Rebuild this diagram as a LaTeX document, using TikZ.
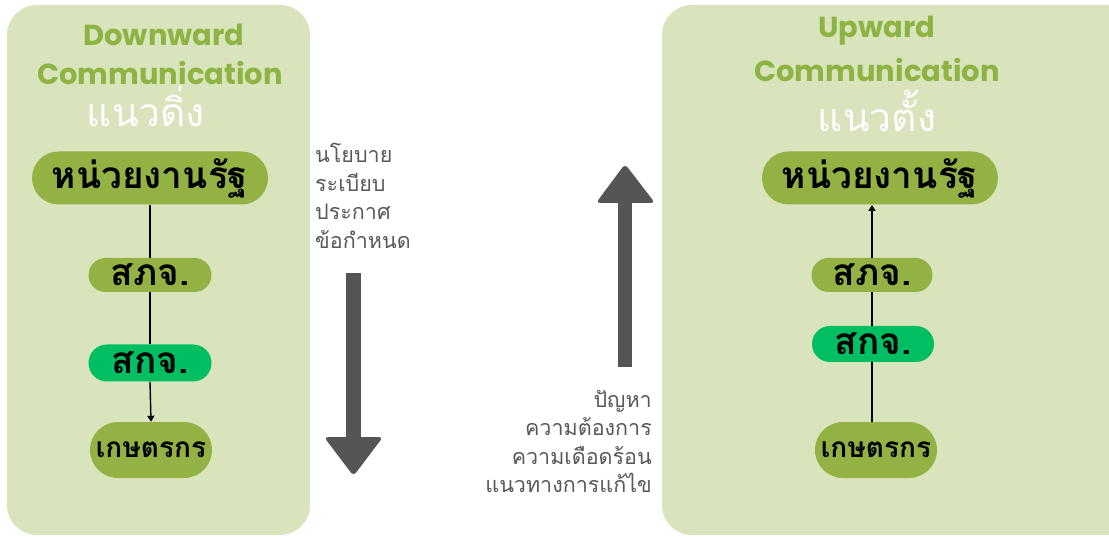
\documentclass[tikz,border=0pt]{standalone}
\usepackage{fontspec}
\setmainfont{Liberation Sans}
\newfontfamily\thai[Script=Thai]{Loma}
\newfontfamily\titlefont{Poppins}[UprightFont=*-Bold]
\usetikzlibrary{arrows.meta,shapes.misc}
\definecolor{panel}{RGB}{217,227,188}
\definecolor{olive}{RGB}{148,178,67}
\definecolor{titlegreen}{RGB}{141,180,67}
\definecolor{brightgreen}{RGB}{0,191,99}
\definecolor{graytext}{RGB}{89,89,89}
\definecolor{bigarrow}{RGB}{85,85,85}
\tikzset{
  x=1pt,y=-1pt,
  panelbox/.style={fill=panel,draw=none,rounded corners=30pt},
  pill/.style={rounded rectangle, fill=olive, text=black, font=\thai\bfseries\fontsize{37}{38}\selectfont, inner sep=0pt},
  farmpill/.style={pill, font=\thai\bfseries\fontsize{28}{30}\selectfont},
  ttl/.style={text=titlegreen,font=\titlefont\fontsize{29}{31}\selectfont},
  thaititle/.style={text=white,font=\thai\fontsize{39}{40}\selectfont},
  midtext/.style={text=graytext,font=\thai\fontsize{21.5}{28.5}\selectfont},
  conn/.style={line width=1.4pt,draw=black},
  tip/.style={-{Triangle[width=7pt,length=6pt]}},
}
\begin{document}
\begin{tikzpicture}
\useasboundingbox (0,0) rectangle (1109,537);
\fill[white] (0,0) rectangle (1109,537);
% panels
\fill[panelbox] (7,5) rectangle (310,535);
\fill[panelbox] (662,5) rectangle (1140,535);
% left titles
\node[ttl] (dtitle1) at (164,35) {Downward};
\node[ttl] (dtitle2) at (160,73) {Communication};
\node[thaititle] (dthai) at (146,107) {แนวดิ่ง};
% right titles
\node[ttl] (utitle1) at (877,31) {Upward};
\node[ttl] (utitle2) at (877,70) {Communication};
\node[thaititle] (uthai) at (877,111) {แนวตั้ง};
% left nodes
\node[pill, minimum width=236pt, minimum height=53pt] (lgov) at (150,178) {หน่วยงานรัฐ};
\node[pill, minimum width=123pt, minimum height=34pt] (lspj) at (150,275) {สภจ.};
\node[pill, fill=brightgreen, minimum width=123pt, minimum height=37pt] (lskj) at (150,363) {สกจ.};
\node[farmpill, minimum width=122pt, minimum height=56pt] (lfarm) at (151,450) {เกษตรกร};
\draw[conn] (lgov.south) -- (lspj.north);
\draw[conn] (lspj.south) -- (lskj.north);
\draw[conn,tip] (lskj.south) -- (lfarm.north);
% right nodes
\node[pill, minimum width=236pt, minimum height=53pt] (rgov) at (880,178) {หน่วยงานรัฐ};
\node[pill, minimum width=121pt, minimum height=34pt] (rspj) at (872,275) {สภจ.};
\node[pill, fill=brightgreen, minimum width=122pt, minimum height=36pt] (rskj) at (873,344) {สกจ.};
\node[farmpill, minimum width=122pt, minimum height=56pt] (rfarm) at (876,450) {เกษตรกร};
\coordinate (rtop) at (872,205);
\draw[conn] (rfarm.north -| rtop) -- (rskj.south -| rtop);
\draw[conn] (rskj.north -| rtop) -- (rspj.south -| rtop);
\draw[conn,tip] (rspj.north -| rtop) -- (rtop);
% middle texts
\node[midtext, anchor=north west, align=left, inner sep=0pt] (down text) at (315,143) {นโยบาย\\ระเบียบ\\ประกาศ\\ข้อกำหนด};
\node[midtext, anchor=north east, align=right, inner sep=0pt] (up text) at (652,390) {ปัญหา\\ความต้องการ\\ความเดือดร้อน\\แนวทางการแก้ไข};
% big arrows
\fill[bigarrow] (346,273) rectangle (361,440);
\fill[bigarrow, rounded corners=4pt] (324,437) -- (383,437) -- (353.5,476) -- cycle;
\fill[bigarrow] (618,200) rectangle (632,367);
\fill[bigarrow, rounded corners=4pt] (596,203) -- (655,203) -- (625,164) -- cycle;
\end{tikzpicture}
\end{document}
